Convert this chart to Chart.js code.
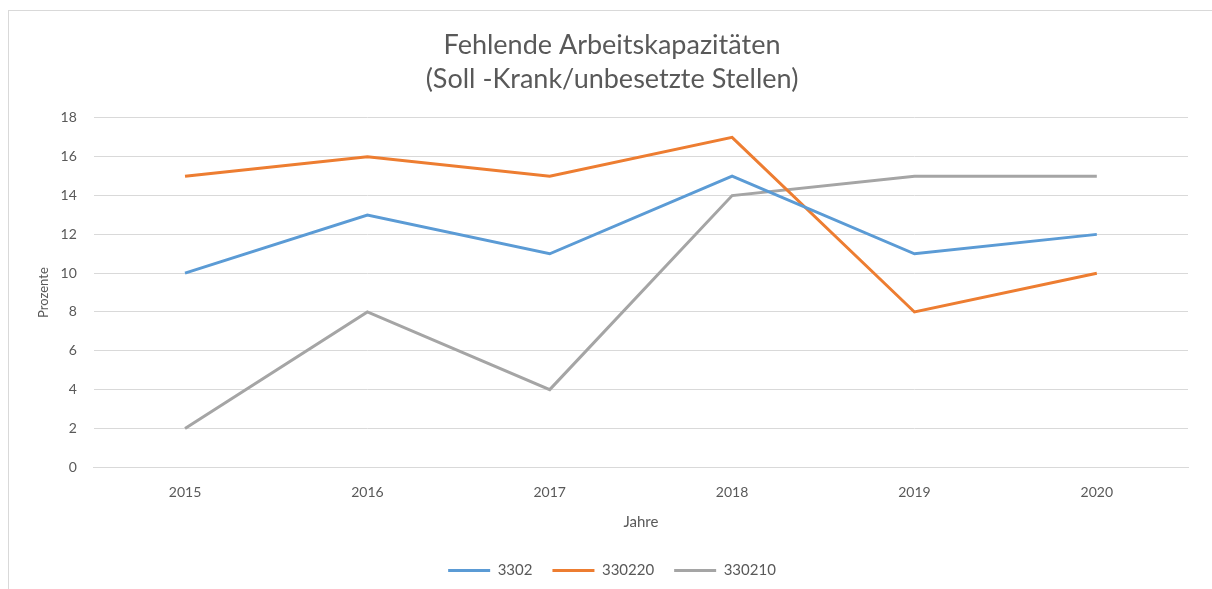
<!DOCTYPE html>
<html>
<head>
<meta charset="utf-8">
<script src="https://cdn.jsdelivr.net/npm/chart.js@4"></script>
<style>
  html, body { margin: 0; padding: 0; background: #fff; }
  body { width: 1212px; height: 589px; overflow: hidden; position: relative; }
  .frame { position: absolute; left: 8px; top: 10px; width: 1210px; height: 590px;
           border-top: 1px solid #d9d9d9; border-left: 1px solid #d9d9d9; }
  .chart { position: absolute; left: 9px; top: 11px; width: 1203px; height: 578px; }
</style>
</head>
<body>
<div class="frame"></div>
<div class="chart"><canvas id="lineChart"></canvas></div>
<script>
const jahre = ['2015', '2016', '2017', '2018', '2019', '2020']
const werte3302 = [10, 13, 11, 15, 11, 12]
const werte330220 = [15, 16, 15, 17, 8, 10]
const werte330210 = [2, 8, 4, 14, 15, 15]
const titelZeilen = ['Fehlende Arbeitskapazitäten', '(Soll -Krank/unbesetzte Stellen)']

const schrift = 'Lato, "Open Sans", sans-serif'
const grau = '#595959'

//    ------- Datensätze ----------
const datasets = [{
    label: '3302',
    data: werte3302,
    borderColor: '#5b9bd5',
    backgroundColor: '#5b9bd5',
    borderWidth: 3,
    pointRadius: 0,
    tension: 0
}, {
    label: '330220',
    data: werte330220,
    borderColor: '#ed7d31',
    backgroundColor: '#ed7d31',
    borderWidth: 3,
    pointRadius: 0,
    tension: 0
}, {
    label: '330210',
    data: werte330210,
    borderColor: '#a5a5a5',
    backgroundColor: '#a5a5a5',
    borderWidth: 3,
    pointRadius: 0,
    tension: 0
}]

const ctx = document.getElementById('lineChart').getContext('2d')
new Chart(ctx, {
    type: 'line',
    data: { labels: jahre, datasets },
    options: {
        responsive: true,
        maintainAspectRatio: false,
        animation: false,
        layout: { padding: { left: 27, right: 24, top: 18, bottom: 1 } },
        plugins: {
            title: {
                display: true,
                text: titelZeilen,
                color: grau,
                font: { family: schrift, size: 27, weight: 'normal', lineHeight: 1.24 },
                padding: { top: 0, bottom: 22 }
            },
            legend: {
                position: 'bottom',
                labels: {
                    usePointStyle: true,
                    pointStyle: 'line',
                    pointStyleWidth: 42,
                    color: grau,
                    font: { family: schrift, size: 15 },
                    padding: 20
                }
            },
            tooltip: { enabled: false }
        },
        scales: {
            x: {
                offset: true,
                grid: { display: false, drawTicks: false },
                border: { display: true, color: '#d9d9d9' },
                ticks: { color: grau, font: { family: schrift, size: 14 }, padding: 17 },
                title: { display: true, text: 'Jahre', color: grau, font: { family: schrift, size: 15 }, padding: { top: -5, bottom: 12 } }
            },
            y: {
                min: 0,
                max: 18,
                ticks: { stepSize: 2, color: grau, font: { family: schrift, size: 14 }, padding: 17 },
                grid: { color: '#d9d9d9', drawTicks: false },
                border: { display: false },
                title: { display: true, text: 'Prozente', color: grau, font: { family: schrift, size: 13 }, padding: { top: 0, bottom: -8 } }
            }
        }
    }
})
</script>
</body>
</html>
